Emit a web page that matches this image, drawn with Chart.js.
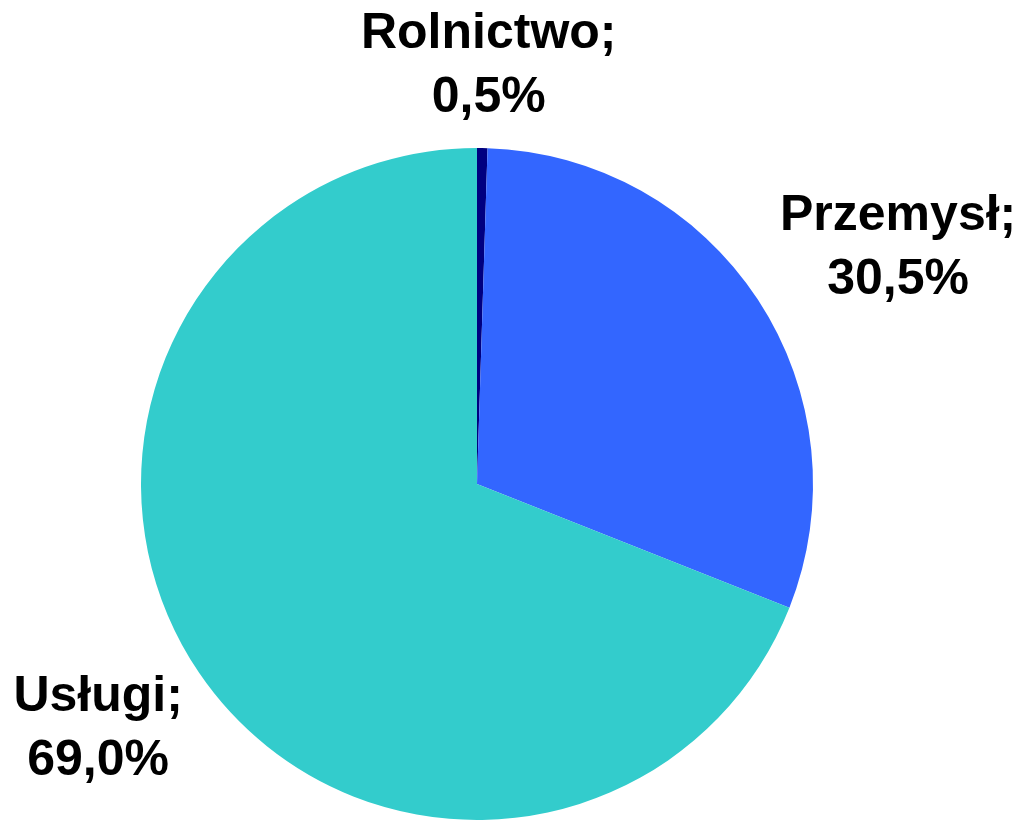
<!DOCTYPE html>
<html>
<head>
<meta charset="utf-8">
<script src="https://cdn.jsdelivr.net/npm/chart.js@4/dist/chart.umd.min.js"></script>
<style>
    html, body {
        margin: 0;
        padding: 0;
        background: #ffffff;
    }
    #wrap {
        width: 1021px;
        height: 820px;
    }
</style>
</head>
<body>
<div id="wrap"><canvas id="pieChart"></canvas></div>
<script>
const categories = ['Rolnictwo', 'Przemysł', 'Usługi'];
const shares = [0.5, 30.5, 69.0];
const sliceColors = ['#000080', '#3366FF', '#33CCCC'];

// label placement relative to each slice: extra angle (deg) and radius factor
const labelTweak = [
    { dAngle: 0.7, factor: 1.25 },
    { dAngle: 3.8, factor: 1.44 },
    { dAngle: 1.5, factor: 1.34 }
];

function fmtPct(v) {
    return v.toFixed(1).replace('.', ',') + '%';
}

const outsideLabels = {
    id: 'outsideLabels',
    afterDatasetsDraw(chart) {
        const ctx = chart.ctx;
        const meta = chart.getDatasetMeta(0);
        ctx.save();
        ctx.fillStyle = '#000000';
        ctx.font = 'bold 50px "Liberation Sans", Arial, sans-serif';
        ctx.textAlign = 'center';
        ctx.textBaseline = 'middle';
        meta.data.forEach((arc, i) => {
            const p = arc.getProps(['x', 'y', 'startAngle', 'endAngle', 'outerRadius'], true);
            const a = (p.startAngle + p.endAngle) / 2 + labelTweak[i].dAngle * Math.PI / 180;
            const r = p.outerRadius * labelTweak[i].factor;
            const x = p.x + Math.cos(a) * r;
            const y = p.y + Math.sin(a) * r;
            ctx.fillText(categories[i] + ';', x, y - 30);
            ctx.fillText(fmtPct(shares[i]), x, y + 34);
        });
        ctx.restore();
    }
};

new Chart(document.getElementById('pieChart'), {
    type: 'pie',
    data: {
        labels: categories,
        datasets: [{
            data: shares,
            backgroundColor: sliceColors,
            borderWidth: 0
        }]
    },
    options: {
        responsive: true,
        maintainAspectRatio: false,
        animation: false,
        layout: {
            padding: { left: 141, top: 148, right: 208, bottom: 0 }
        },
        plugins: {
            legend: { display: false },
            tooltip: { enabled: false }
        }
    },
    plugins: [outsideLabels]
});
</script>
</body>
</html>
